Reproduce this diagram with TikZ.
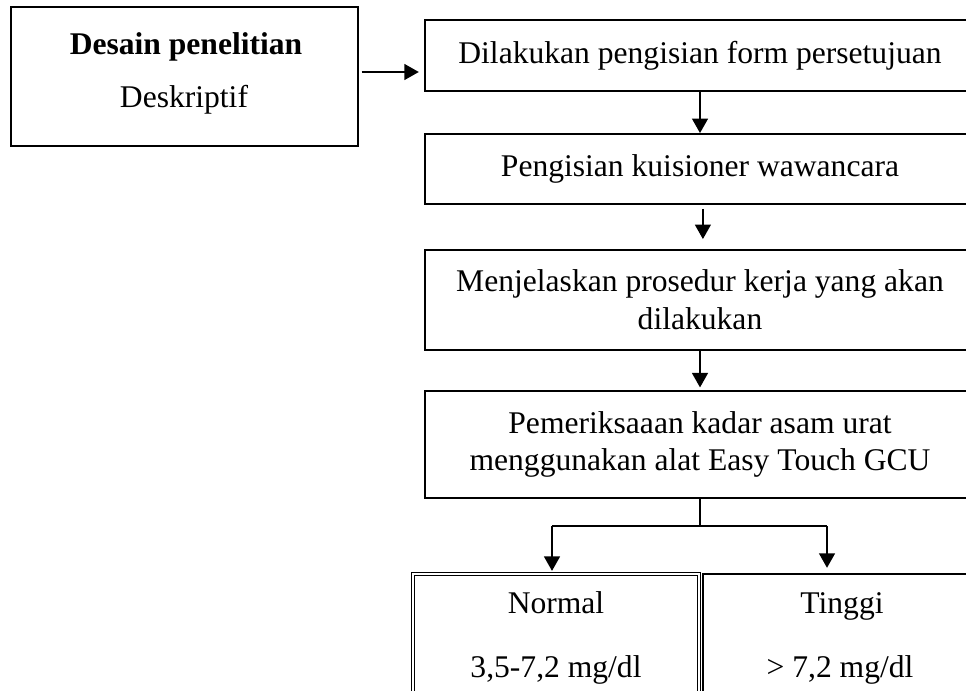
\documentclass[tikz,border=0pt]{standalone}
\usepackage{fontspec}
\setmainfont{Liberation Serif}
\usetikzlibrary{arrows.meta}
\begin{document}
\begin{tikzpicture}[x=0.38pt,y=-0.38pt,
  box/.style={draw,line width=0.7pt,inner sep=0pt,font=\fontsize{12}{14.4}\selectfont,align=center},
  dbox/.style={draw,line width=0.35pt,double,double distance=0.6pt,inner sep=0pt},
  lbl/.style={inner sep=0pt,font=\fontsize{12}{14.4}\selectfont,anchor=base},
  arr/.style={line width=0.75pt,-{Triangle[width=6pt,length=5.5pt]}},
  link/.style={line width=0.45pt}]
\useasboundingbox (0,0) rectangle (966,691);
\clip (0,0) rectangle (966,691);
% left box
\node[box, minimum width=131.86pt, minimum height=52.82pt] (b0) at (184.5,76.5) {};
\node[lbl] (t0a) at (186,55) {\bfseries Desain penelitian};
\node[lbl] (t0b) at (184,108) {Deskriptif};
% main column
\node[box, minimum width=209pt, minimum height=26.98pt] (b1) at (700,55.5) {Dilakukan pengisian form persetujuan};
\node[box, minimum width=209pt, minimum height=26.6pt] (b2) at (700,169) {Pengisian kuisioner wawancara};
\node[box, minimum width=209pt, minimum height=38pt] (b3) at (700,300) {Menjelaskan prosedur kerja yang akan\\dilakukan};
\node[box, minimum width=209pt, minimum height=40.66pt] (b4) at (700,444.5) {Pemeriksaaan kadar asam urat\\menggunakan alat Easy Touch GCU};
% result boxes
\node[dbox, minimum width=108.68pt, minimum height=59.28pt] (n1) at (556,652) {};
\node[box, minimum width=104.88pt, minimum height=59.28pt] (n2) at (841,652) {};
\node[lbl] (t1a) at (556,613) {Normal};
\node[lbl] (t1b) at (556,677) {3,5-7,2 mg/dl};
\node[lbl] (t2a) at (842,613) {Tinggi};
\node[lbl] (t2b) at (840,677) {> 7,2 mg/dl};
% connectors
\draw[arr, shorten >=2pt] ([xshift=1pt]b0.east |- 0,72) -- (b1.west |- 0,72);
\draw[arr] (b1.south) -- (b2.north);
\draw[arr] ([xshift=1.1pt,yshift=-1.5pt]b2.south) -- ([xshift=1.1pt,yshift=3.8pt]b3.north);
\draw[arr, shorten >=1pt] (b3.south) -- (b4.north);
\coordinate (bm) at (700,526);
\coordinate (bl) at (552,526);
\coordinate (brr) at (827,526);
\draw[link] (b4.south) -- (bm);
\draw[link] (bl) -- (brr);
\draw[arr, shorten >=1pt] (bl) -- (bl |- n1.north);
\draw[arr, shorten >=2pt] (brr) -- (brr |- n2.north);
\end{tikzpicture}
\end{document}
